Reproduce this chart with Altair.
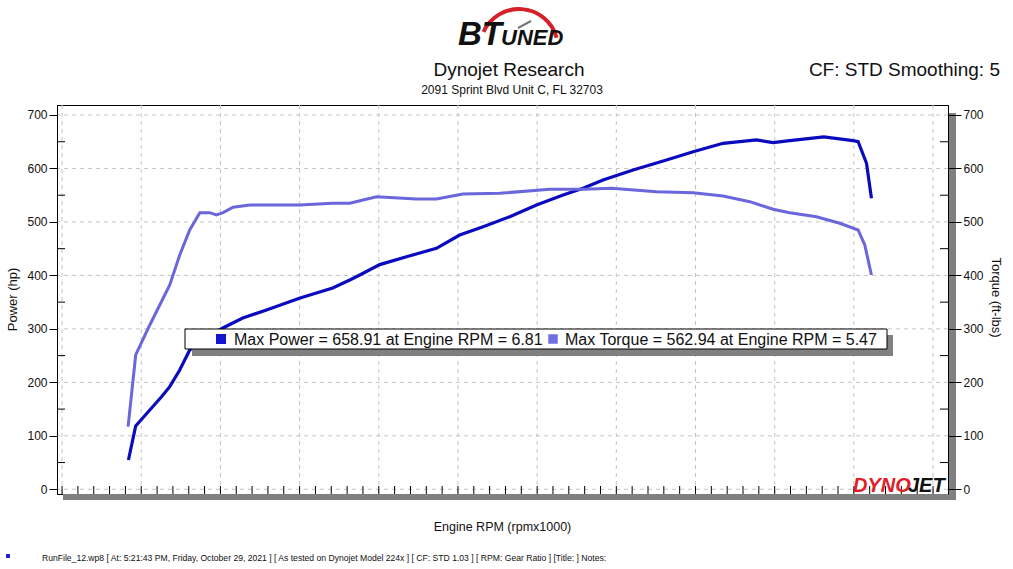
import altair as alt
import pandas as pd

# ---------------- data ----------------
RPM_P = [2.419, 2.465, 2.554, 2.628, 2.680, 2.743, 2.806, 2.870, 3.015, 3.141,
         3.291, 3.503, 3.709, 3.817, 3.880, 4.006, 4.175, 4.364, 4.511, 4.659,
         4.827, 4.996, 5.164, 5.290, 5.416, 5.606, 5.817, 5.985, 6.174, 6.385,
         6.490, 6.595, 6.810, 6.995, 7.027, 7.080, 7.111]
HP = [54.8, 118.4, 148.3, 173.2, 191.9, 223.1, 260.5, 276.0, 301.7, 320.4,
      335.3, 357.8, 376.5, 391.5, 400.8, 420.2, 435.0, 450.7, 475.6, 491.1,
      509.8, 531.7, 550.4, 562.9, 578.5, 597.2, 615.9, 631.4, 647.1, 653.3,
      648.2, 652.0, 658.9, 652.0, 650.1, 609.7, 544.2]

RPM_T = [2.417, 2.465, 2.554, 2.617, 2.680, 2.743, 2.806, 2.870, 2.933, 2.975,
         3.017, 3.080, 3.185, 3.501, 3.709, 3.817, 3.985, 4.238, 4.364, 4.532,
         4.764, 5.080, 5.290, 5.470, 5.754, 5.985, 6.174, 6.343, 6.490, 6.595,
         6.764, 6.911, 7.027, 7.069, 7.111]
TQ = [117.1, 251.2, 307.3, 344.7, 382.1, 438.2, 484.9, 517.3, 517.3, 513.0,
      517.3, 527.4, 531.7, 531.7, 534.9, 534.9, 547.2, 542.9, 542.9, 552.3,
      553.6, 561.1, 561.1, 562.9, 556.6, 554.7, 548.5, 537.9, 523.7, 517.3,
      509.8, 497.5, 484.9, 456.9, 400.8]

X_TICKS = [2.0, 2.5, 3.0, 3.5, 4.0, 4.5, 5.0, 5.5, 6.0, 6.5, 7.0, 7.5]
Y_TICKS = [0, 100, 200, 300, 400, 500, 600, 700]
X_MINOR = [round(2.0 + 0.1 * i, 1) for i in range(56)]
Y_MINOR = [50, 150, 250, 350, 450, 550, 650]

LOGO_BT = "BT"
LOGO_UNED = "UNED"
TITLE = "Dynojet Research"
ADDRESS = "2091 Sprint Blvd Unit C, FL 32703"
CF_TEXT = "CF: STD Smoothing: 5"
X_TITLE = "Engine RPM (rpmx1000)"
LEG_POWER = "Max Power = 658.91 at Engine RPM = 6.81"
LEG_TORQUE = "Max Torque = 562.94 at Engine RPM = 5.47"
FOOTER = ("RunFile_12.wp8 [ At: 5:21:43 PM, Friday, October 29, 2021 ] "
          "[ As tested on Dynojet Model 224x ] [ CF: STD 1.03 ] "
          "[ RPM: Gear Ratio ] [Title: ]  Notes:")
DYNO = "DYNO"
JET = "JET"

# ---------------- layout ----------------
W, H = 891, 389
XDOM = [1.968, 7.5945]
YDOM = [-8.8, 718.7]
FONT = "Liberation Sans"
C_POWER = "#0A0ABE"
C_TORQUE = "#6B66DB"

xs = alt.Scale(domain=XDOM, nice=False, zero=False)
ys = alt.Scale(domain=YDOM, nice=False, zero=False)

df_p = pd.DataFrame({"rpm": RPM_P, "hp": HP})
df_t = pd.DataFrame({"rpm": RPM_T, "tq": TQ})
one = pd.DataFrame({"k": [0]})


def text_layer(txt, x, y, size, align="left", color="#111", weight="normal",
               style="normal", font=FONT):
    return alt.Chart(pd.DataFrame({"t": [txt]})).mark_text(
        align=align, baseline="alphabetic", font=font, fontSize=size,
        color=color, fontWeight=weight, fontStyle=style
    ).encode(x=alt.value(x), y=alt.value(y), text="t:N")


def rect_layer(x, x2, y, y2, fill, stroke=None):
    kw = {"fill": fill}
    if stroke:
        kw.update(stroke=stroke, strokeWidth=1)
    return alt.Chart(one).mark_rect(**kw).encode(
        x=alt.value(x), x2=alt.value(x2), y=alt.value(y), y2=alt.value(y2))


grid_v = alt.Chart(pd.DataFrame({"x": X_TICKS})).mark_rule(
    color="#c4c4c4", strokeDash=[4, 4], strokeWidth=1
).encode(x=alt.X("x:Q", scale=xs, axis=None))

grid_h = alt.Chart(pd.DataFrame({"y": Y_TICKS})).mark_rule(
    color="#c4c4c4", strokeDash=[4, 4], strokeWidth=1
).encode(y=alt.Y("y:Q", scale=ys, axis=None))

minor_x = alt.Chart(pd.DataFrame({"x": X_MINOR})).mark_rule(color="black").encode(
    x=alt.X("x:Q", scale=xs, axis=None), y=alt.value(H - 8), y2=alt.value(H))

minor_yl = alt.Chart(pd.DataFrame({"y": Y_MINOR})).mark_rule(color="black").encode(
    y=alt.Y("y:Q", scale=ys, axis=None), x=alt.value(0), x2=alt.value(8))

minor_yr = alt.Chart(pd.DataFrame({"y": Y_MINOR})).mark_rule(color="black").encode(
    y=alt.Y("y:Q", scale=ys, axis=None), x=alt.value(W - 8), x2=alt.value(W))

x_axis = alt.Axis(values=X_TICKS, format=".1f", grid=False, tickSize=7,
                  tickColor="black", domainColor="black", labelFont=FONT,
                  labelFontSize=12, labelColor="#111", labelPadding=2,
                  titleOpacity=0, zindex=1)
yl_axis = alt.Axis(values=Y_TICKS, grid=False, tickSize=8, tickColor="black",
                   domainColor="black", labelFont=FONT, labelFontSize=12,
                   labelColor="#111", labelPadding=2, titleFont=FONT,
                   titleFontSize=13, titleFontWeight="normal", titleColor="#111",
                   titleAngle=270, titleX=-45, titleY=194, titleBaseline="middle",
                   titleAlign="center", zindex=1)
yr_axis = alt.Axis(values=Y_TICKS, orient="right", grid=False, tickSize=13,
                   tickColor="black", domainColor="black", labelFont=FONT,
                   labelFontSize=12, labelColor="#111", labelPadding=2,
                   titleFont=FONT, titleFontSize=13, titleFontWeight="normal",
                   titleColor="#111", titleAngle=90, titleX=47, titleY=192,
                   titleBaseline="middle", titleAlign="center", zindex=1)

power = alt.Chart(df_p).mark_line(color=C_POWER, strokeWidth=3.2).encode(
    x=alt.X("rpm:Q", scale=xs, axis=x_axis, title=X_TITLE),
    y=alt.Y("hp:Q", scale=ys, axis=yl_axis, title="Power (hp)"))

torque = alt.Chart(df_t).mark_line(color=C_TORQUE, strokeWidth=3).encode(
    x=alt.X("rpm:Q", scale=xs, axis=None),
    y=alt.Y("tq:Q", scale=ys, axis=yr_axis, title="Torque (ft-lbs)"))

x_title = text_layer(X_TITLE, 445.5, 426, 12.5, align="center", color="#111")

# frame shadow
sh_bottom = rect_layer(6, 899, H, H + 6, "#808080")
sh_right = rect_layer(W + 1, 899, 8, H + 6, "#808080")

# legend box
leg_shadow = rect_layer(135, 836, 230, 251, "#808080")
leg_box = rect_layer(128, 830, 224, 244, "white", stroke="black")
leg_sq_p = alt.Chart(one).mark_square(size=100, color="#1414D2", opacity=1).encode(
    x=alt.value(164), y=alt.value(234))
leg_sq_t = alt.Chart(one).mark_square(size=90, color="#7070E0", opacity=1).encode(
    x=alt.value(496), y=alt.value(234))
leg_t_p = text_layer(LEG_POWER, 177, 240, 16, color="#111")
leg_t_t = text_layer(LEG_TORQUE, 508, 240, 16, color="#111")

# header
arc = alt.Chart(one).mark_arc(color="#D61F26", radius=41, radius2=37,
                              theta=5.14, theta2=7.59).encode(
    x=alt.value(462), y=alt.value(-57))
needle = alt.Chart(one).mark_rule(color="#777", strokeWidth=2).encode(
    x=alt.value(461), y=alt.value(-77), x2=alt.value(474), y2=alt.value(-84))
bt = text_layer(LOGO_BT, 445, -60, 33, align="right", color="#111",
                weight="bold", style="italic")
uned = text_layer(LOGO_UNED, 444, -60, 22, align="left", color="#111",
                  weight="bold", style="italic")
title = text_layer(TITLE, 452, -29, 19, align="center", color="#111")
addr = text_layer(ADDRESS, 455, -11.5, 12, align="center", color="#111")
cf = text_layer(CF_TEXT, 943, -29, 19, align="right", color="#111")

# DYNOJET logo
dyno = text_layer(DYNO, 796, 387, 20, color="#E0202A", weight="bold", style="italic")
jet = text_layer(JET, 851, 387, 20, color="#111", weight="bold", style="italic")

# footer
foot_sq = alt.Chart(one).mark_square(size=16, color="#2020D0", opacity=1).encode(
    x=alt.value(-49), y=alt.value(451))
foot = text_layer(FOOTER, -15, 456, 8.6, color="#111")

chart = alt.layer(
    grid_v, grid_h, minor_x, minor_yl, minor_yr,
    power, torque,
    sh_bottom, sh_right,
    leg_shadow, leg_box, leg_sq_p, leg_sq_t, leg_t_p, leg_t_t,
    x_title, arc, needle, bt, uned, title, addr, cf,
    dyno, jet, foot_sq, foot,
).resolve_scale(y="independent").properties(
    width=W, height=H,
    padding={"left": 57, "top": 105, "right": 65, "bottom": 75},
    autosize=alt.AutoSizeParams(type="none"),
    background="white",
).configure_view(stroke="black", strokeWidth=1)

chart.save("out.html", embed_options={"renderer": "svg", "actions": False})
